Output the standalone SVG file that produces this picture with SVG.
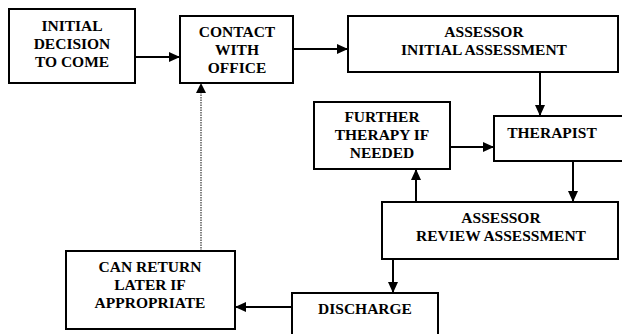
<svg xmlns="http://www.w3.org/2000/svg" width="622" height="334" viewBox="0 0 622 334">
<style>
.box{fill:#fff;stroke:#000;stroke-width:2}
.t{font-family:'Liberation Serif','Times New Roman','DejaVu Serif',serif;font-weight:700;font-size:15.5px;fill:#000;text-anchor:middle}
.c{fill:none;stroke:#000;stroke-width:2}
.d{fill:none;stroke:#333;stroke-width:1.2;stroke-dasharray:1.5,1}
</style>
<defs>
<marker id="ah" markerUnits="userSpaceOnUse" markerWidth="11" markerHeight="10" refX="11" refY="5" orient="auto">
<path d="M0,0 L11,5 L0,10 z" fill="#000"/>
</marker>
</defs>
<rect width="622" height="334" fill="#fff"/>
<g id="connectors">
<line class="c" x1="135" y1="57" x2="180" y2="57" marker-end="url(#ah)"/>
<line class="c" x1="293" y1="49" x2="348" y2="49" marker-end="url(#ah)"/>
<line class="c" x1="540" y1="72" x2="540" y2="116" marker-end="url(#ah)"/>
<line class="c" x1="450" y1="147" x2="494" y2="147" marker-end="url(#ah)"/>
<line class="c" x1="573" y1="161" x2="573" y2="202" marker-end="url(#ah)"/>
<line class="c" x1="416" y1="202" x2="416" y2="169" marker-end="url(#ah)"/>
<line class="c" x1="393" y1="259" x2="393" y2="293" marker-end="url(#ah)"/>
<line class="c" x1="292" y1="307" x2="235" y2="307" marker-end="url(#ah)"/>
<line class="d" x1="201" y1="251" x2="201" y2="92"/>
<path d="M196,93 L201,83 L206,93 z" fill="#000"/>
</g>
<g id="initial">
<rect class="box" x="9" y="9" width="126" height="74"/>
<text class="t" font-family="Liberation Serif" x="72" y="31">INITIAL</text>
<text class="t" x="72" y="49">DECISION</text>
<text class="t" x="72" y="67">TO COME</text>
</g>
<g id="contact">
<rect class="box" x="180" y="16" width="113" height="67"/>
<text class="t" x="237" y="37">CONTACT</text>
<text class="t" x="237" y="55">WITH</text>
<text class="t" x="237" y="73">OFFICE</text>
</g>
<g id="assessor-initial">
<rect class="box" x="348" y="16" width="270" height="56"/>
<text class="t" x="484" y="37">ASSESSOR</text>
<text class="t" x="484" y="55">INITIAL ASSESSMENT</text>
</g>
<g id="further">
<rect class="box" x="314" y="102" width="136" height="67"/>
<text class="t" x="382" y="122">FURTHER</text>
<text class="t" x="382" y="140">THERAPY IF</text>
<text class="t" x="382" y="158">NEEDED</text>
</g>
<g id="therapist">
<rect class="box" x="494" y="116" width="140" height="45"/>
<text class="t" x="552" y="138">THERAPIST</text>
</g>
<g id="review">
<rect class="box" x="382" y="202" width="236" height="57"/>
<text class="t" x="501" y="223">ASSESSOR</text>
<text class="t" x="501" y="241">REVIEW ASSESSMENT</text>
</g>
<g id="discharge">
<rect class="box" x="292" y="293" width="146" height="50"/>
<text class="t" x="365" y="314">DISCHARGE</text>
</g>
<g id="canreturn">
<rect class="box" x="66" y="251" width="169" height="78"/>
<text class="t" x="150" y="272">CAN RETURN</text>
<text class="t" x="150" y="290">LATER IF</text>
<text class="t" x="150" y="308">APPROPRIATE</text>
</g>
</svg>
